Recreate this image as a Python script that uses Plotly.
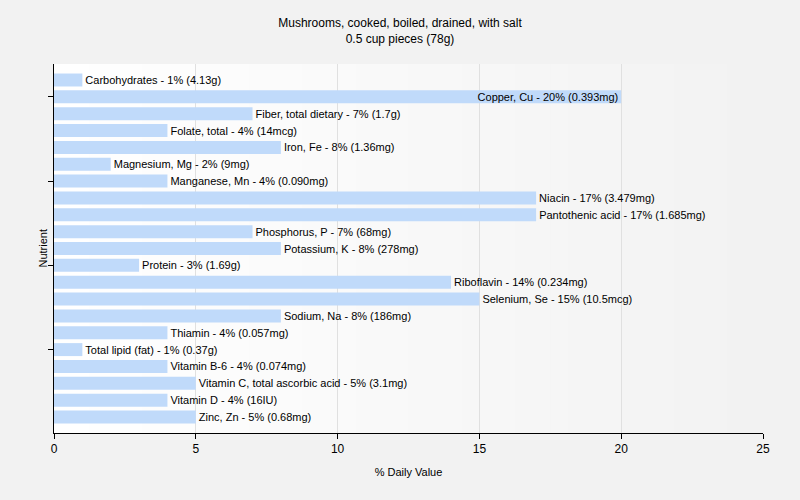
import plotly.graph_objects as go

nutrients = [
    "Carbohydrates", "Copper, Cu", "Fiber, total dietary", "Folate, total", "Iron, Fe",
    "Magnesium, Mg", "Manganese, Mn", "Niacin", "Pantothenic acid", "Phosphorus, P",
    "Potassium, K", "Protein", "Riboflavin", "Selenium, Se", "Sodium, Na", "Thiamin",
    "Total lipid (fat)", "Vitamin B-6", "Vitamin C, total ascorbic acid", "Vitamin D", "Zinc, Zn",
]
daily_value_pct = [1, 20, 7, 4, 8, 2, 4, 17, 17, 7, 8, 3, 14, 15, 8, 4, 1, 4, 5, 4, 5]
amounts = [
    "4.13g", "0.393mg", "1.7g", "14mcg", "1.36mg", "9mg", "0.090mg", "3.479mg", "1.685mg",
    "68mg", "278mg", "1.69g", "0.234mg", "10.5mcg", "186mg", "0.057mg", "0.37g",
    "0.074mg", "3.1mg", "16IU", "0.68mg",
]
x_ticks = [0, 5, 10, 15, 20, 25]

labels = [f"{n} - {v}% ({a})" for n, v, a in zip(nutrients, daily_value_pct, amounts)]
positions = ["inside" if v >= 18 else "outside" for v in daily_value_pct]

fig = go.Figure(go.Bar(
    y=nutrients,
    x=daily_value_pct,
    orientation="h",
    marker=dict(color="#c0dafa", line=dict(width=0)),
    width=0.77,
    text=labels,
    textposition=positions,
    insidetextanchor="end",
    constraintext="none",
    textfont=dict(family="Liberation Sans, Arial, sans-serif", size=11, color="#000000"),
    cliponaxis=False,
    hoverinfo="skip",
))

# background gradient strips
n = 40
shapes = []
for i in range(n):
    t = i / (n - 1)
    c = int(round(255 - (255 - 242) * t))
    shapes.append(dict(
        type="rect", xref="x domain", yref="y domain",
        x0=i / n, x1=(i + 1) / n + 0.002, y0=0, y1=1,
        fillcolor=f"rgb({c},{c},{c})", line=dict(width=0), layer="below",
    ))

fig.update_layout(
    width=800, height=500,
    paper_bgcolor="#f2f2f2",
    plot_bgcolor="#f2f2f2",
    margin=dict(l=54, r=37, t=64, b=67, autoexpand=False),
    shapes=shapes,
    showlegend=False,
    font=dict(family="Liberation Sans, Arial, sans-serif", size=12, color="#000000"),
    title=dict(
        text="Mushrooms, cooked, boiled, drained, with salt<br>0.5 cup pieces (78g)",
        x=0.5, xanchor="center", y=0.946, yanchor="top",
        font=dict(size=12, color="#000000"),
    ),
    xaxis=dict(
        range=[0, 25], tickvals=x_ticks, showgrid=True, gridcolor="#e0e0e0", gridwidth=1,
        showline=True, linecolor="#000000", linewidth=1, ticks="outside", ticklen=5,
        tickcolor="#000000", zeroline=False, automargin=False,
        title=dict(text="% Daily Value", font=dict(size=11), standoff=12),
        tickfont=dict(size=12),
    ),
    yaxis=dict(
        type="category", range=[20.95, -0.95], automargin=False,
        tickvals=[nutrients[1], nutrients[6], nutrients[11], nutrients[16]],
        showticklabels=False, showgrid=False, showline=True, linecolor="#000000", linewidth=1,
        ticks="outside", ticklen=5, tickcolor="#000000",
    ),
    annotations=[dict(
        text="Nutrient", xref="paper", yref="paper", x=0, y=0.5,
        xanchor="center", yanchor="middle", xshift=-12, textangle=-90,
        showarrow=False, font=dict(size=11, color="#000000"),
    )],
)

fig.write_html(
    "out.html",
    config={"displayModeBar": False},
    post_script="document.body.style.margin='0';document.body.style.overflow='hidden';",
)
